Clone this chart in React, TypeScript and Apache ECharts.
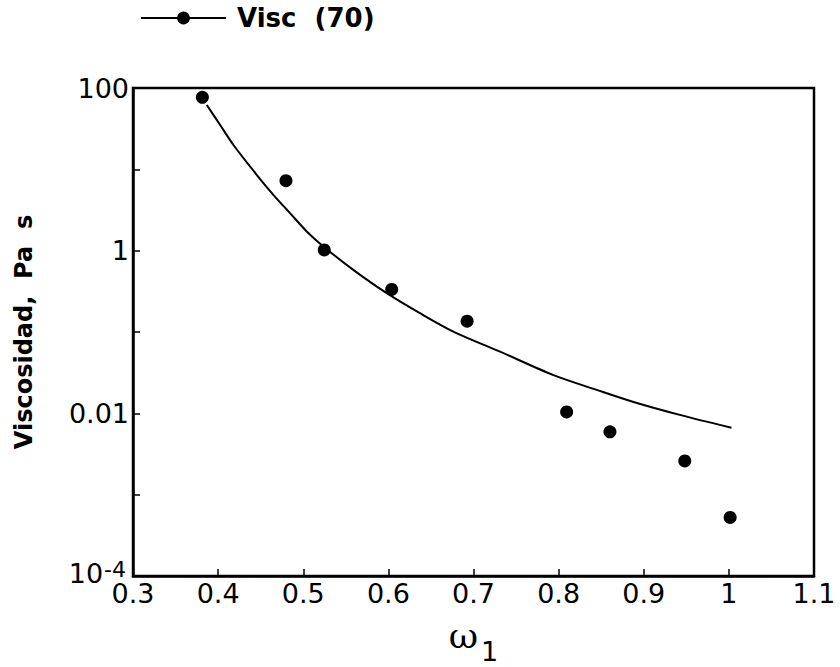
import React, { useEffect, useRef } from "react";
import * as echarts from "echarts";

// Measured mole-fraction / viscosity pairs
const omegaMeasured = [0.3815, 0.4797, 0.5247, 0.6039, 0.6925, 0.8094, 0.8603, 0.9482, 1.0015];
const viscMeasured = [76.9, 7.24, 1.02, 0.334, 0.136, 0.0104, 0.00592, 0.0026, 0.000524];

// Model curve (70)
const omegaModel = [
  0.3867, 0.4024, 0.418, 0.4455, 0.4651, 0.4847, 0.5044, 0.5239, 0.5592, 0.5985, 0.6376,
  0.6768, 0.7318, 0.794, 0.8455, 0.888, 0.9435, 1.003,
];
const viscModel = [
  61.8, 35.1, 19.9, 8.51, 4.83, 2.88, 1.71, 1.12, 0.577, 0.298, 0.169,
  0.1005, 0.057, 0.0295, 0.0193, 0.0138, 0.0095, 0.00664,
];

const xTicks = { min: 0.3, max: 1.1, step: 0.1 };
const yDecades = { min: 1e-4, max: 100 };
const labeledExponents = [2, 0, -2, -4];

const seriesName = "Visc  (70)";

function yLabel(v: number): string {
  const e = Math.round(Math.log10(v));
  if (!labeledExponents.includes(e)) return "";
  if (e === 2) return "100";
  if (e === 0) return "1";
  if (e === -2) return "0.01";
  return "{base|10}{sup|" + e + "}";
}

export default function App() {
  const ref = useRef<HTMLDivElement>(null);
  useEffect(() => {
    document.body.style.margin = "0";
    if (!ref.current) return;
    const chart = echarts.init(ref.current, null, { renderer: "svg" });
    const font = "'DejaVu Sans', 'Liberation Sans', Arial, sans-serif";
    chart.setOption({
      animation: false,
      backgroundColor: "#fff",
      textStyle: { fontFamily: font, color: "#000" },
      legend: {
        left: 140,
        top: 5,
        padding: 0,
        itemWidth: 85,
        itemHeight: 16,
        data: [seriesName],
        textStyle: { fontSize: 26, fontWeight: "bold", color: "#000", fontFamily: font, padding: [0, 0, 0, 6] },
        selectedMode: false,
      },
      grid: {
        left: 133,
        right: 26,
        top: 88,
        bottom: 91,
        outerBoundsMode: "none",
        containLabel: false,
        show: true,
        borderColor: "#000",
        borderWidth: 2.5,
        backgroundColor: "transparent",
      },
      xAxis: {
        type: "value",
        min: xTicks.min,
        max: xTicks.max,
        interval: xTicks.step,
        name: "{w|ω}{sub|1}",
        nameLocation: "middle",
        nameGap: 41,
        nameTextStyle: {
          color: "#000",
          rich: {
            w: {
              fontFamily: "'DejaVu Serif', 'Liberation Serif', serif",
              fontSize: 36,
              verticalAlign: "bottom",
              padding: [0, 0, 12, 0],
              color: "#000",
            },
            sub: { fontFamily: font, fontSize: 27, verticalAlign: "bottom", padding: [0, 0, 0, 3], color: "#000" },
          },
        },
        axisLine: { lineStyle: { color: "#000", width: 2.5 } },
        axisTick: { inside: true, length: 7, lineStyle: { color: "#000", width: 1.5 } },
        axisLabel: {
          fontSize: 27,
          color: "#000",
          margin: 4,
          formatter: (v: number) => String(Math.round(v * 10) / 10),
        },
        splitLine: { show: false },
      },
      yAxis: {
        type: "log",
        logBase: 10,
        min: yDecades.min,
        max: yDecades.max,
        splitNumber: 6,
        name: "Viscosidad,  Pa  s",
        nameLocation: "middle",
        nameGap: 97,
        nameRotate: 90,
        nameTextStyle: { fontSize: 24, fontWeight: "bold", color: "#000", fontFamily: font },
        axisLine: { lineStyle: { color: "#000", width: 2.5 } },
        axisTick: { inside: true, length: 7, lineStyle: { color: "#000", width: 1.5 } },
        axisLabel: {
          fontSize: 27,
          color: "#000",
          margin: 4,
          formatter: yLabel,
          rich: {
            base: { fontSize: 27, padding: [0, 0, 6, 0], color: "#000", fontFamily: font },
            sup: { fontSize: 22, verticalAlign: "top", padding: [0, 3, 14, 1], color: "#000", fontFamily: font },
          },
        },
        splitLine: { show: false },
      },
      series: [
        {
          name: seriesName,
          type: "line",
          smooth: 0.3,
          showSymbol: false,
          symbol: "circle",
          data: omegaModel.map((x, i) => [x, viscModel[i]]),
          lineStyle: { color: "#000", width: 2 },
          itemStyle: { color: "#000" },
        },
        {
          name: "measured",
          type: "scatter",
          symbol: "circle",
          symbolSize: 13,
          data: omegaMeasured.map((x, i) => [x, viscMeasured[i]]),
          itemStyle: { color: "#000", opacity: 1 },
        },
      ],
    });
    return () => chart.dispose();
  }, []);
  return <div ref={ref} style={{ width: 840, height: 667 }} />;
}
